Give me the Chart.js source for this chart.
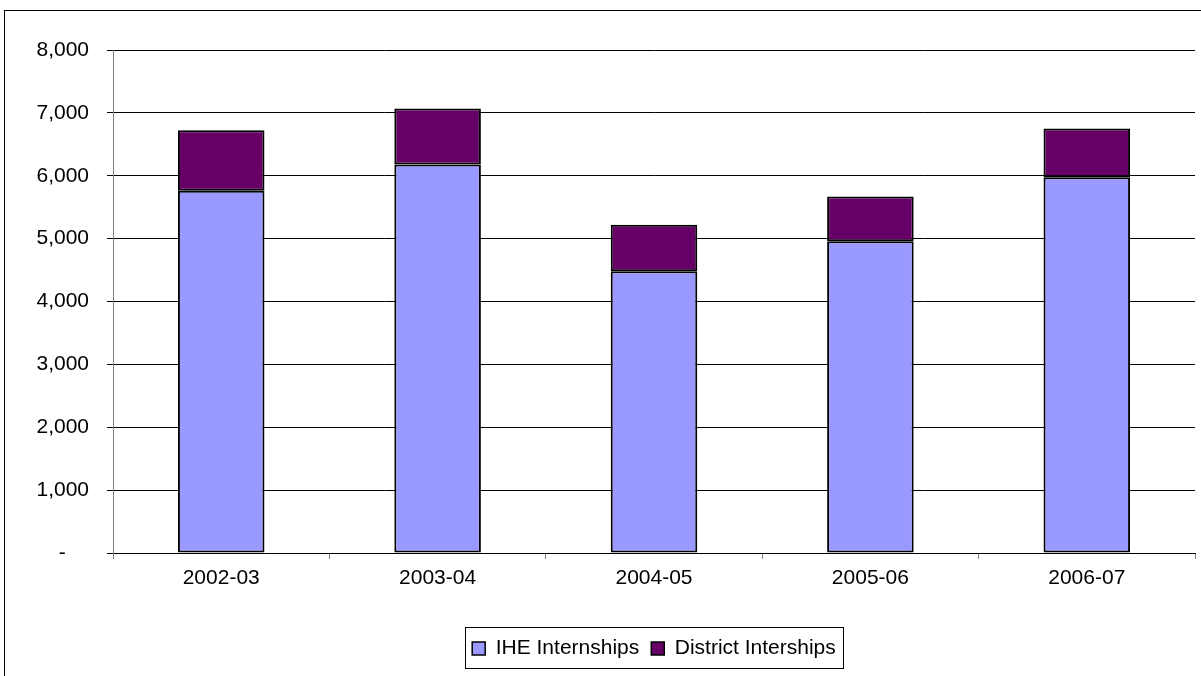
<!DOCTYPE html>
<html><head><meta charset="utf-8">
<script src="https://cdn.jsdelivr.net/npm/chart.js@4"></script>
<style>html,body{margin:0;padding:0;background:#fff;}#wrap{width:1201px;height:676px;}</style>
</head><body><div id="wrap"><canvas id="c" width="1201" height="676"></canvas></div>
<script>
const categories = ['2002-03','2003-04','2004-05','2005-06','2006-07'];
const iheInternships = [5760, 6180, 4480, 4960, 5975];
const districtInternships = [965, 890, 740, 710, 775];
const yTicks = [0,1000,2000,3000,4000,5000,6000,7000,8000];

const FONT = 'Arial, "Liberation Sans", sans-serif';

const framePlugin = {
  id: 'frame',
  beforeDraw(chart){
    const ctx = chart.ctx;
    ctx.save();
    ctx.fillStyle = '#fff';
    ctx.fillRect(0,0,chart.width,chart.height);
    ctx.strokeStyle = '#000';
    ctx.lineWidth = 1;
    ctx.strokeRect(4.5, 10.5, 1400, 1000);
    ctx.restore();
  },
  afterDraw(chart){
    const lg = chart.legend;
    if(!lg || !lg.legendHitBoxes || !lg.legendHitBoxes.length) return;
    const hb = lg.legendHitBoxes;
    let l = Infinity, r = -Infinity;
    hb.forEach(h=>{l=Math.min(l,h.left);r=Math.max(r,h.left+h.width);});
    const ctx = chart.ctx;
    ctx.save();
    ctx.strokeStyle = '#000';
    ctx.lineWidth = 1;
    ctx.strokeRect(Math.round(l-7)+0.5, 627.5, Math.round(r-l+14), 41);
    ctx.restore();
  }
};

new Chart(document.getElementById('c'), {
  type: 'bar',
  data: {
    labels: categories,
    datasets: [
      {label:'IHE Internships', data: iheInternships, backgroundColor:'#9999FF', borderColor:'#000', borderWidth:2, borderSkipped:false, barPercentage:0.4, categoryPercentage:1},
      {label:'District Interships', data: districtInternships, backgroundColor:'#660066', borderColor:'#000', borderWidth:2, borderSkipped:false, barPercentage:0.4, categoryPercentage:1}
    ]
  },
  options: {
    responsive:false, animation:false, devicePixelRatio:1,
    layout:{padding:{top:50,right:6,left:0,bottom:7}},
    plugins:{
      legend:{position:'bottom', fullSize:false, labels:{font:{family:FONT,size:21}, color:'#000', boxWidth:13, boxHeight:13, padding:12,
        generateLabels(chart){
          return chart.data.datasets.map((d,i)=>({text:d.label, fillStyle:d.backgroundColor, strokeStyle:'#000', lineWidth:1.5, datasetIndex:i, fontColor:'#000'}));
        }}},
      tooltip:{enabled:false}
    },
    scales:{
      x:{stacked:true, offset:true,
        grid:{display:true, drawOnChartArea:false, offset:true, tickLength:6, color:'#808080'},
        border:{color:'#000', width:1},
        ticks:{font:{family:FONT,size:21}, color:'#000', padding:7, maxRotation:0},
        afterFit(s){ s.height = 73; }
      },
      y:{stacked:true, min:0, max:8000,
        afterBuildTicks(s){ s.ticks = yTicks.map(v=>({value:v})); },
        grid:{color:'#000', tickLength:6, drawTicks:true},
        border:{color:'#808080', width:1},
        ticks:{font:{family:FONT,size:21}, color:'#000', padding:18,
          callback(v){ return v===0 ? '-    ' : v.toLocaleString('en-US'); }},
        afterFit(s){ s.width = 113; }
      }
    }
  },
  plugins:[framePlugin]
});
</script></body></html>
